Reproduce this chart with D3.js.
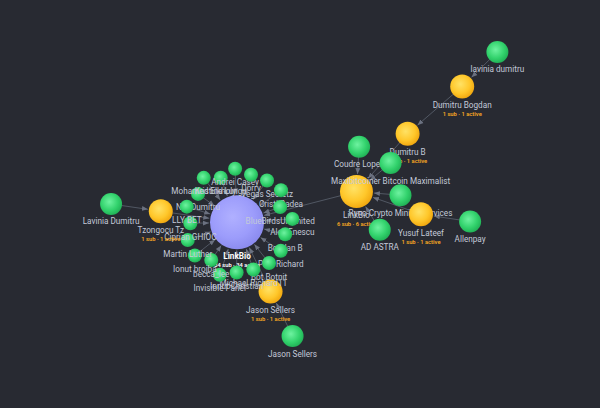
<!DOCTYPE html>
<html>
<head>
<meta charset="utf-8">
<script src="https://cdn.jsdelivr.net/npm/d3@7"></script>
<style>
html, body { margin: 0; padding: 0; background: #282a32; overflow: hidden; }
svg { display: block; }
text { font-family: "Roboto", "Noto Sans", sans-serif; }
</style>
</head>
<body>
<div id="container"></div>
<script>
// members of the referral tree, drawn in this order
var names = [
    "LinkBio",                          // 0 root
    "N Y Dumitru", "Mohamed Elkholy", "Kristina Lungu", "Andrei Casey", "Dorry",
    "Vegas Secretz", "Cristi Badea", "BlueBirdsUnlimited",
    "LinkBio",                          // 9
    "Alex Enescu", "Bogdan B",
    "Paul Richard", "Bot Botnit",
    "Jason Sellers",                    // 14
    "Michael Richard11", "Ionut Christian",
    "Invisible Panel", "becca_lee", "Ionut brojba", "Martin Luther",
    "Ciprian GHIOC",
    "Tzongocu Tz",                      // 22
    "LLY BET",
    "Coudre Lopez", "Dumitru B", "Maxibitcoiner Bitcoin Maximalist",
    "Ryno Crypto Mining Services", "Yusuf Lateef", "AD ASTRA",
    "Dumitru Bogdan", "lavinia dumitru", "Allenpay",
    "Jason Sellers", "Lavinia Dumitru"
];
var parents = [
    -1,
    0, 0, 0, 0, 0,
    0, 0, 0,
    0,
    0, 0,
    0, 0,
    0,
    0, 0,
    0, 0, 0, 0,
    0,
    0,
    0,
    9, 9, 9,
    9, 9, 9,
    25, 30, 28,
    14, 22
];
var subCounts    = { 0: 34, 9: 6, 14: 1, 22: 1, 25: 1, 28: 1, 30: 1 };
var activeCounts = { 0: 34, 9: 6, 14: 1, 22: 1, 25: 1, 28: 1, 30: 1 };

var width = 600, height = 408;

var root = d3.stratify()
    .id(function(d) { return d.i })
    .parentId(function(d) { return d.p < 0 ? null : d.p })
    (names.map(function(n, i) { return { i: i, p: parents[i], name: n } }));

var rSub = d3.scaleSqrt().domain([1, 34]).range([12, 27]);

var nodes = root.descendants();
nodes.forEach(function(d) {
    var k = +d.id;
    d.idx = k;
    d.name = d.data.name;
    d.subs = subCounts[k];
    d.active = activeCounts[k];
    d.desc = d.descendants().length - 1;
    if (d.depth == 0) d.kind = "root";
    else if (d.children) d.kind = "sub";
    else d.kind = "leaf";
    if (d.kind == "root") d.r = 27;
    else if (d.kind == "sub") d.r = rSub(d.subs);
    else d.r = d.depth == 1 ? 7 : 11;
});
nodes.sort(function(a, b) { return a.idx - b.idx });

// lone children sit further out, big subtrees further still
function linkDist(child) {
    var n = child.parent.children.length;
    return child.r + child.parent.r + 10 + 16 / Math.sqrt(n) + 22 * Math.sqrt(child.desc);
}

// seed positions so the layout starts out radial
root.x = root.fx = width * 0.395;
root.y = root.fy = height * 0.545;
function seed(node, angle, spread) {
    if (!node.children) return;
    var n = node.children.length;
    node.children.forEach(function(c, i) {
        var a = spread >= 2 * Math.PI
            ? angle + i * spread / n
            : angle - spread / 2 + spread * (i + 0.5) / n;
        var dist = linkDist(c);
        c.x = node.x + dist * Math.cos(a);
        c.y = node.y + dist * Math.sin(a);
        seed(c, a, Math.PI * 0.66);
    });
}
seed(root, -140 * Math.PI / 180, 2 * Math.PI);

var links = nodes.filter(function(d) { return d.parent }).map(function(d) {
    return { source: d, target: d.parent }
});

var sim = d3.forceSimulation(nodes)
    .force("link", d3.forceLink(links).distance(function(l) { return linkDist(l.source) }).strength(1))
    .force("charge", d3.forceManyBody().strength(-12).distanceMax(90))
    .force("collide", d3.forceCollide(function(d) { return d.r + 1.5 }))
    .alphaDecay(0.08)
    .stop();
while (sim.alpha() > sim.alphaMin()) sim.tick();

var svg = d3.select("#container").append("svg")
    .attr("width", width)
    .attr("height", height);

svg.append("rect").attr("width", width).attr("height", height).attr("fill", "#282a32");

var defs = svg.append("defs");
defs.append("marker")
    .attr("id", "arrow")
    .attr("viewBox", "0 -5 10 10")
    .attr("refX", 10)
    .attr("markerUnits", "userSpaceOnUse")
    .attr("markerWidth", 6)
    .attr("markerHeight", 6)
    .attr("orient", "auto")
    .append("path")
    .attr("d", "M0,-4L10,0L0,4")
    .attr("fill", "#6b7180");

var grads = {
    root: ["#b0b0ff", "#9c9cfb", "#8c8cf0"],
    sub:  ["#ffe265", "#ffc72a", "#f2aa12"],
    leaf: ["#6ef2a0", "#32d26c", "#22b458"]
};
Object.keys(grads).forEach(function(k) {
    var g = defs.append("radialGradient").attr("id", "g-" + k)
        .attr("cx", "42%").attr("cy", "40%").attr("r", "60%");
    g.append("stop").attr("offset", "0%").attr("stop-color", grads[k][0]);
    g.append("stop").attr("offset", "65%").attr("stop-color", grads[k][1]);
    g.append("stop").attr("offset", "100%").attr("stop-color", grads[k][2]);
});

svg.append("g").selectAll("line")
    .data(links)
    .enter().append("line")
    .attr("x1", function(l) { return l.source.x })
    .attr("y1", function(l) { return l.source.y })
    .attr("x2", function(l) {
        var dx = l.target.x - l.source.x, dy = l.target.y - l.source.y;
        var len = Math.sqrt(dx * dx + dy * dy) || 1;
        return l.target.x - dx / len * (l.target.r + 1);
    })
    .attr("y2", function(l) {
        var dx = l.target.x - l.source.x, dy = l.target.y - l.source.y;
        var len = Math.sqrt(dx * dx + dy * dy) || 1;
        return l.target.y - dy / len * (l.target.r + 1);
    })
    .attr("stroke", "#565c69")
    .attr("stroke-width", 0.9)
    .attr("marker-end", "url(#arrow)");

var node = svg.append("g").selectAll("g")
    .data(nodes)
    .enter().append("g")
    .attr("transform", function(d) { return "translate(" + d.x + "," + d.y + ")" });

node.append("circle")
    .attr("r", function(d) { return d.r })
    .attr("fill", function(d) { return "url(#g-" + d.kind + ")" });

node.append("text")
    .attr("text-anchor", "middle")
    .attr("y", function(d) { return d.r + 9.5 })
    .attr("font-size", 8.2)
    .attr("font-weight", function(d) { return d.kind == "root" ? 700 : 400 })
    .attr("fill", function(d) { return d.kind == "root" ? "#ffffff" : "#c3c9d8" })
    .text(function(d) { return d.name });

node.filter(function(d) { return d.subs })
    .append("text")
    .attr("text-anchor", "middle")
    .attr("y", function(d) { return d.r + 17.5 })
    .attr("font-size", 5.8)
    .attr("font-weight", 600)
    .attr("fill", function(d) { return d.kind == "root" ? "#ffffff" : "#f5a623" })
    .text(function(d) { return d.subs + " sub · " + d.active + " active" });
</script>
</body>
</html>
